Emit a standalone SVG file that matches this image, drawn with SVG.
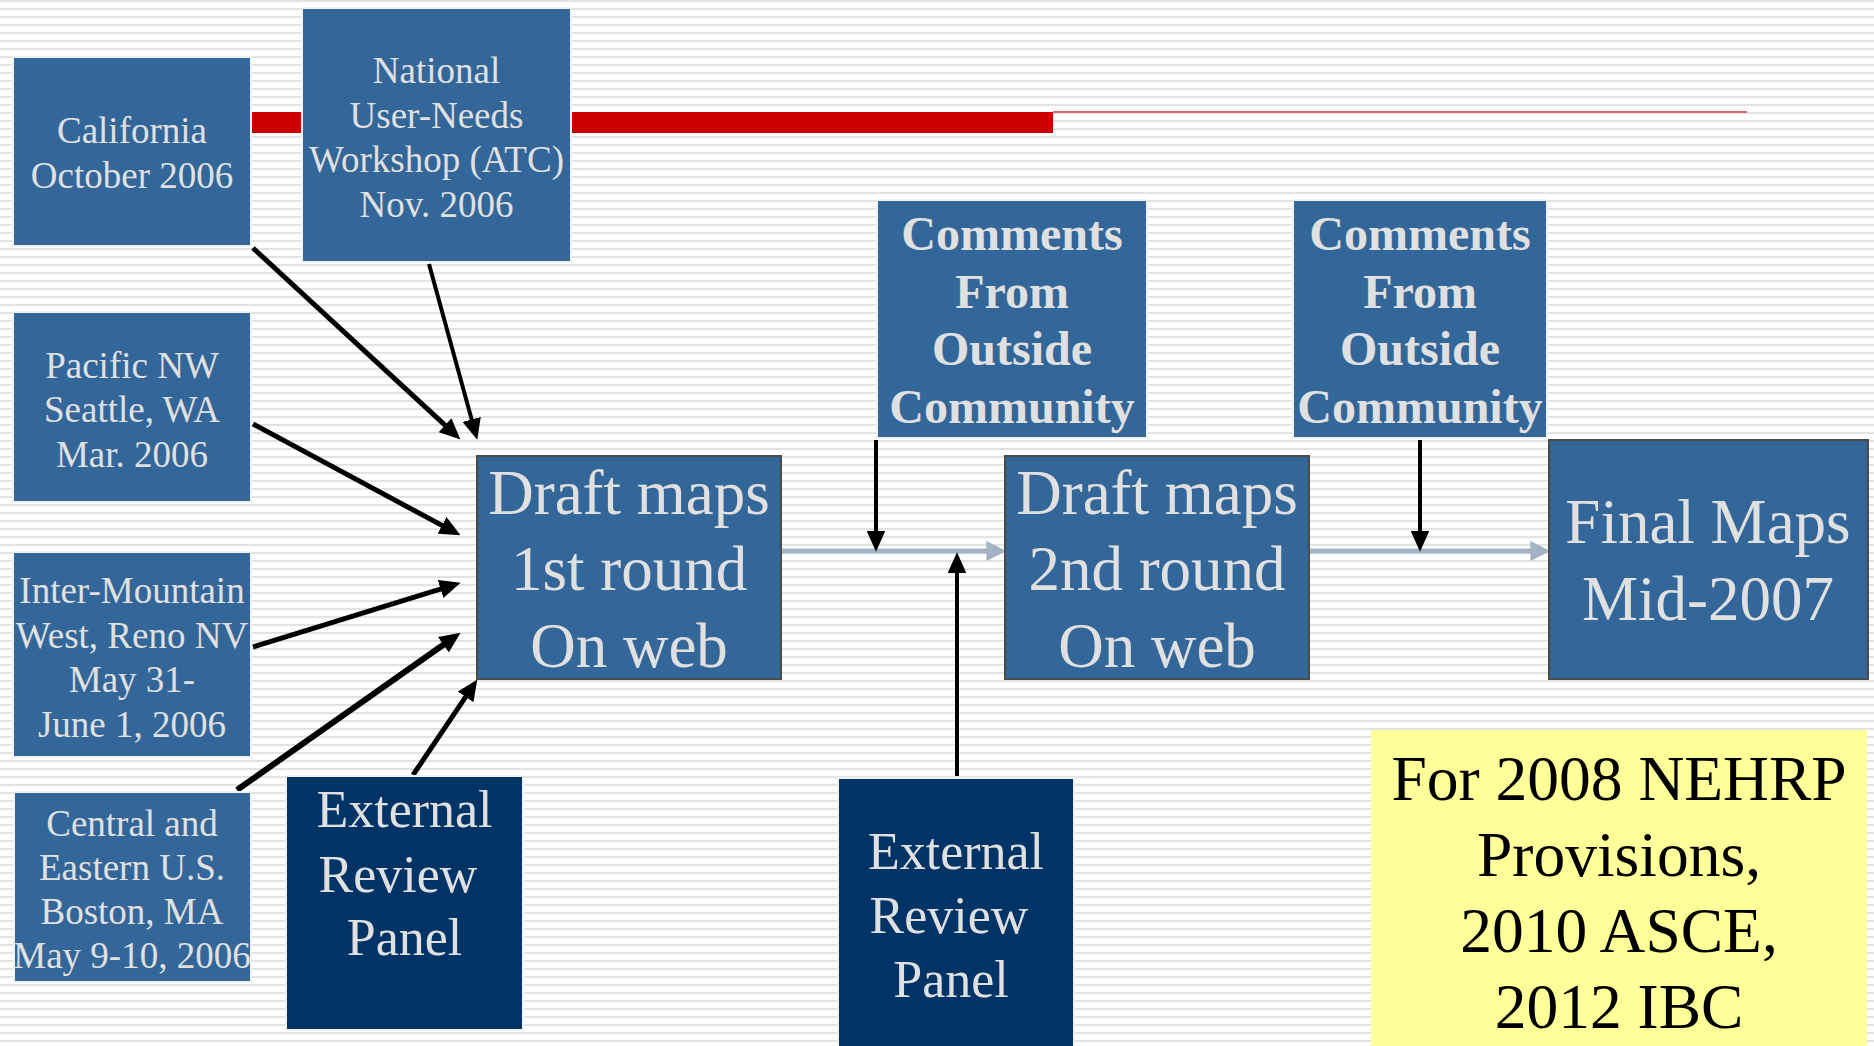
<svg xmlns="http://www.w3.org/2000/svg" width="1874" height="1046" viewBox="0 0 1874 1046">
<style>
.box{fill:#336699;stroke:#f2f2f2;stroke-width:2}
.main{fill:#336699;stroke:#4a4a4a;stroke-width:2}
.dark{fill:#003366;stroke:#f2f2f2;stroke-width:2}
.t{font-family:"Liberation Serif","Times New Roman",serif;fill:#e0e0e0;text-anchor:middle}
.s{font-size:37px}
.b{font-size:48px;font-weight:bold}
.l{font-size:63px}
.e{font-size:52px}
.y{font-family:"Liberation Serif","Times New Roman",serif;fill:#000;text-anchor:middle;font-size:63.5px}
.k{stroke:#000;fill:none}
.g{stroke:#a3b3c3;stroke-width:5;fill:none}
</style>
<defs>
<pattern id="stripes" x="0" y="0" width="8" height="8" patternUnits="userSpaceOnUse">
<rect width="8" height="8" fill="#ffffff"/>
<rect y="0" width="8" height="2" fill="#e2e2e2"/>
</pattern>
<marker id="ah" markerUnits="userSpaceOnUse" markerWidth="21" markerHeight="19" refX="7" refY="9" orient="auto" viewBox="0 0 20 18">
<path d="M0,0 L20,9 L0,18 z" fill="#000"/>
</marker>
<marker id="ag" markerUnits="userSpaceOnUse" markerWidth="20" markerHeight="20" refX="6" refY="9" orient="auto" viewBox="0 0 18 18">
<path d="M0,0 L18,9 L0,18 z" fill="#a3b3c3"/>
</marker>
</defs>
<rect width="1874" height="1046" fill="url(#stripes)"/>
<g id="timeline">
<rect x="13" y="112" width="1040" height="21" fill="#cc0000"/>
<rect x="1053" y="111" width="694" height="2" fill="#e06666"/>
</g>
<g id="connectors">
<line class="g" x1="781" y1="551" x2="993" y2="551" marker-end="url(#ag)"/>
<line class="g" x1="1309" y1="551" x2="1537" y2="551" marker-end="url(#ag)"/>
<line class="k" stroke-width="5" x1="253" y1="248" x2="450.4" y2="430.2" marker-end="url(#ah)"/>
<line class="k" stroke-width="4" x1="429" y1="264" x2="473.6" y2="426.5" marker-end="url(#ah)"/>
<line class="k" stroke-width="5" x1="253" y1="424" x2="448.5" y2="528.9" marker-end="url(#ah)"/>
<line class="k" stroke-width="5" x1="253" y1="647" x2="447.6" y2="586.8" marker-end="url(#ah)"/>
<line class="k" stroke-width="6" x1="237" y1="790" x2="449.4" y2="640.5" marker-end="url(#ah)"/>
<line class="k" stroke-width="5" x1="413" y1="775" x2="469.7" y2="690.8" marker-end="url(#ah)"/>
<line class="k" stroke-width="4" x1="876" y1="440" x2="876" y2="538" marker-end="url(#ah)"/>
<line class="k" stroke-width="4" x1="1420" y1="440" x2="1420" y2="538" marker-end="url(#ah)"/>
<line class="k" stroke-width="4" x1="957" y1="776" x2="957" y2="566" marker-end="url(#ah)"/>
</g>
<g id="california">
<rect class="box" x="13" y="57" width="238" height="189"/>
<text class="t s" x="132" y="143">California</text>
<text class="t s" x="132" y="188">October 2006</text>
</g>
<g id="national">
<rect class="box" x="302" y="8" width="269" height="254"/>
<text class="t s" x="436.5" y="83">National</text>
<text class="t s" x="436.5" y="128">User-Needs</text>
<text class="t s" x="436.5" y="172">Workshop (ATC)</text>
<text class="t s" x="436.5" y="217">Nov. 2006</text>
</g>
<g id="pacific">
<rect class="box" x="13" y="312" width="238" height="190"/>
<text class="t s" x="132" y="378">Pacific NW</text>
<text class="t s" x="132" y="422">Seattle, WA</text>
<text class="t s" x="132" y="467">Mar. 2006</text>
</g>
<g id="intermountain">
<rect class="box" x="13" y="552" width="238" height="205"/>
<text class="t s" x="132" y="603">Inter-Mountain</text>
<text class="t s" x="132" y="648">West, Reno NV</text>
<text class="t s" x="132" y="692">May 31-</text>
<text class="t s" x="132" y="737">June 1, 2006</text>
</g>
<g id="central">
<rect class="box" x="14" y="792" width="237" height="190"/>
<text class="t s" x="132" y="836">Central and</text>
<text class="t s" x="132" y="880">Eastern U.S.</text>
<text class="t s" x="132" y="924">Boston, MA</text>
<text class="t s" x="132" y="968">May 9-10, 2006</text>
</g>
<g id="external1">
<rect class="dark" x="286" y="776" width="237" height="254"/>
<text class="t e" x="404.5" y="827">External</text>
<text class="t e" x="398" y="892">Review</text>
<text class="t e" x="404.5" y="955">Panel</text>
</g>
<g id="draft1">
<rect class="main" x="477" y="456" width="304" height="223"/>
<text class="t l" x="629" y="514">Draft maps</text>
<text class="t l" x="629" y="590">1st round</text>
<text class="t l" x="629" y="667">On web</text>
</g>
<g id="comments1">
<rect class="box" x="877" y="200" width="270" height="238"/>
<text class="t b" x="1012" y="250">Comments</text>
<text class="t b" x="1012" y="308">From</text>
<text class="t b" x="1012" y="365">Outside</text>
<text class="t b" x="1012" y="423">Community</text>
</g>
<g id="comments2">
<rect class="box" x="1293" y="200" width="254" height="238"/>
<text class="t b" x="1420" y="250">Comments</text>
<text class="t b" x="1420" y="308">From</text>
<text class="t b" x="1420" y="365">Outside</text>
<text class="t b" x="1420" y="423">Community</text>
</g>
<g id="draft2">
<rect class="main" x="1005" y="456" width="304" height="223"/>
<text class="t l" x="1157" y="514">Draft maps</text>
<text class="t l" x="1157" y="590">2nd round</text>
<text class="t l" x="1157" y="667">On web</text>
</g>
<g id="final">
<rect class="main" x="1549" y="440" width="319" height="239"/>
<text class="t l" x="1708" y="543">Final Maps</text>
<text class="t l" x="1708" y="620">Mid-2007</text>
</g>
<g id="external2">
<rect class="dark" x="838" y="778" width="236" height="280"/>
<text class="t e" x="956" y="869">External</text>
<text class="t e" x="949" y="933">Review</text>
<text class="t e" x="951" y="997">Panel</text>
</g>
<g id="note">
<rect x="1371" y="730" width="496" height="320" fill="#ffff99"/>
<text class="y" x="1619" y="800">For 2008 NEHRP</text>
<text class="y" x="1619" y="876">Provisions,</text>
<text class="y" x="1619" y="952">2010 ASCE,</text>
<text class="y" x="1619" y="1028">2012 IBC</text>
</g>
</svg>
